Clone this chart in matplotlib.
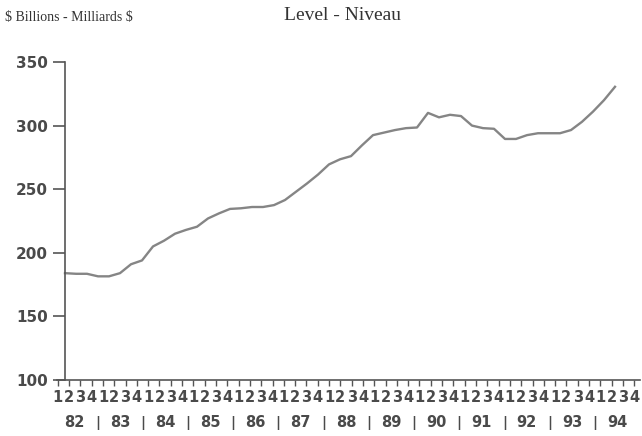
import matplotlib.pyplot as plt
import matplotlib.transforms as mtransforms
import numpy as np

# quarterly level, $ billions, 1982 Q1 - 1994 Q3
years = ['82', '83', '84', '85', '86', '87', '88', '89', '90', '91', '92', '93', '94']
quarters = ['1', '2', '3', '4']
level = [184, 183.5, 183.5, 181.5, 181.5, 184, 191, 194, 205, 209.5,
         215, 218, 220.5, 227, 231, 234.5, 235, 236, 236, 237.5,
         241.5, 248, 254.5, 261.5, 269.5, 273.5, 276, 284.5, 292.5, 294.5,
         296.5, 298, 298.5, 310, 306.5, 308.5, 307.5, 300, 298, 297.5,
         289.5, 289.5, 292.5, 294, 294, 294, 296.5, 303, 311, 320,
         330.5]

W, H = 642, 436
fig = plt.figure(figsize=(W / 100, H / 100), dpi=100)
ax = fig.add_axes([57 / W, 1 - 380 / H, (640 - 57) / W, (380 - 62) / H])

x = np.arange(len(level))
ax.plot(x, level, color='#858585', lw=1.7, solid_joinstyle='round')

px = 11.0  # pixels per quarter
ax.set_xlim(-8 / px, (640 - 65) / px)
ax.set_ylim(100, 350)

ax.spines['left'].set_position(('data', 0))
ax.spines[['top', 'right']].set_visible(False)
for s in ['left', 'bottom']:
    ax.spines[s].set_color('#555555')
    ax.spines[s].set_linewidth(1.2)

txt = '#4a4a4a'
ax.set_yticks([100, 150, 200, 250, 300, 350])
ax.tick_params(axis='y', direction='out', length=8.5, width=1.2, pad=4,
               color='#555555', labelcolor=txt, labelsize=11)
for lab in ax.get_yticklabels():
    lab.set_fontweight('bold')

# quarter ticks and labels
nq = len(years) * 4
qpos = np.linspace(-0.66, 51.75, nq)
ax.set_xticks(qpos, labels=quarters * len(years))
ax.tick_params(axis='x', direction='out', length=4, width=1, pad=3.5,
               color='#555555', labelcolor=txt, labelsize=10.5)
for lab in ax.get_xticklabels():
    lab.set_fontweight('bold')

# year row
trans = mtransforms.blended_transform_factory(ax.transData, ax.transAxes)
for k, yr in enumerate(years):
    c = qpos[4 * k:4 * k + 4].mean()
    ax.text(c, -0.135, yr, transform=trans, ha='center', va='center',
            fontsize=10.5, fontweight='bold', color=txt)
    if k < len(years) - 1:
        b = (qpos[4 * k + 3] + qpos[4 * k + 4]) / 2
        ax.text(b, -0.135, '|', transform=trans, ha='center', va='center',
                fontsize=10, fontweight='bold', color=txt)

fig.text(5 / W, 1 - 17 / H, '\\$ Billions - Milliards \\$', family='Liberation Serif',
         fontsize=10, color='#333333', va='center', ha='left')
fig.text(343 / W, 1 - 16 / H, 'Level - Niveau', family='Liberation Serif',
         fontsize=14, color='#333333', va='center', ha='center')

fig.savefig('out.png', dpi=100, facecolor='white')
